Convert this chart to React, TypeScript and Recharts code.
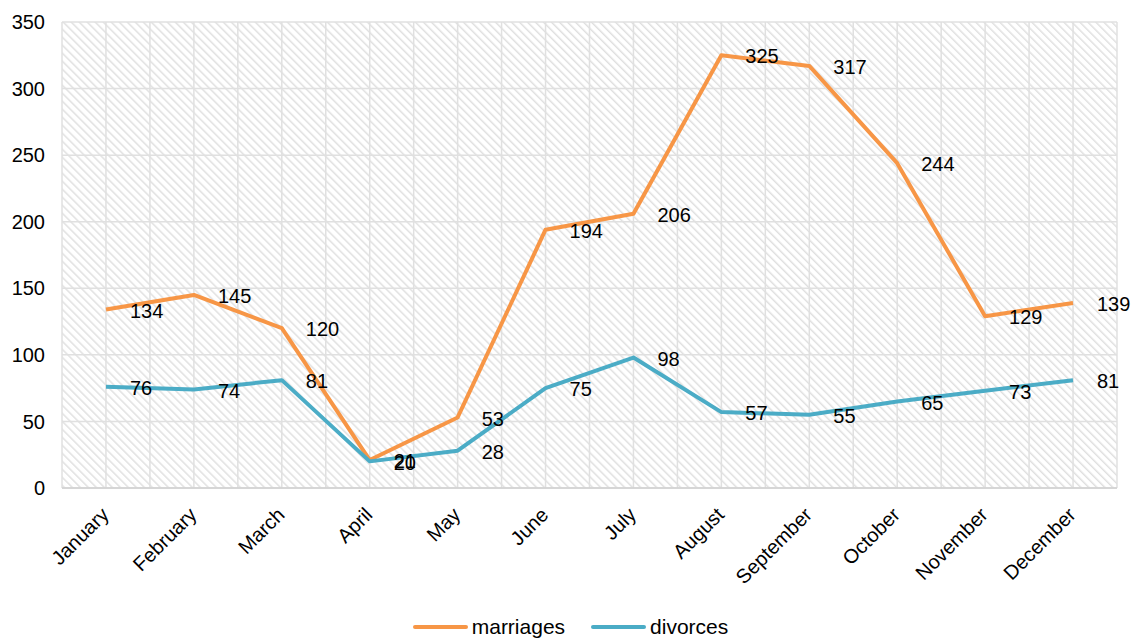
import { LineChart, Line, XAxis, YAxis, CartesianGrid, Legend, LabelList } from 'recharts'

const months = ['January', 'February', 'March', 'April', 'May', 'June', 'July', 'August', 'September', 'October', 'November', 'December']
const marriages = [134, 145, 120, 21, 53, 194, 206, 325, 317, 244, 129, 139]
const divorces = [76, 74, 81, 20, 28, 75, 98, 57, 55, 65, 73, 81]
const yTicks = [0, 50, 100, 150, 200, 250, 300, 350]

const data = months.map((month, i) => ({ month, marriages: marriages[i], divorces: divorces[i] }))

const FONT = '"Liberation Sans", Arial, sans-serif'
const ORANGE = '#F79646'
const BLUE = '#4BACC6'

// value labels sit to the right of each point
function ValueLabel(props: any) {
  const { x, y, value } = props
  return (
    <text x={x + 24} y={y + 1} dy="0.36em" fontSize={20} fontFamily={FONT} fill="#000">
      {value}
    </text>
  )
}

function MonthTick(props: any) {
  const { x, y, payload } = props
  const tx = x + 4
  const ty = y + 20
  return (
    <text x={tx} y={ty} transform={`rotate(-45 ${tx} ${ty})`} textAnchor="end" fontSize={20} fontFamily={FONT} fill="#000">
      {payload.value}
    </text>
  )
}

function LegendContent() {
  const items = [
    { name: 'marriages', color: ORANGE },
    { name: 'divorces', color: BLUE },
  ]
  return (
    <div style={{ display: 'flex', justifyContent: 'center', gap: 26, fontFamily: FONT, fontSize: 21, height: 30, alignItems: 'center', paddingLeft: 14 }}>
      {items.map((it) => (
        <div key={it.name} style={{ display: 'flex', alignItems: 'center' }}>
          <span style={{ display: 'inline-block', width: 55, height: 4, borderRadius: 2, background: it.color, marginRight: 4 }} />
          <span>{it.name}</span>
        </div>
      ))}
    </div>
  )
}

export default function App() {
  return (
    <div style={{ position: 'absolute', left: 0, top: 0, width: 1137, height: 642, background: '#fff' }}>
      <LineChart width={1137} height={642} data={data} margin={{ top: 22, right: 20, left: 10, bottom: 0 }}>
        <defs>
          <pattern id="hatch" width="5.66" height="5.66" patternUnits="userSpaceOnUse" patternTransform="rotate(-45)">
            <rect x="0" y="0" width="1.5" height="5.66" fill="#e0e0e0" />
          </pattern>
        </defs>
        <CartesianGrid
          fill="url(#hatch)"
          fillOpacity={1}
          stroke="#e0e0e0"
          strokeWidth={1.5}
          verticalCoordinatesGenerator={({ offset }: any) =>
            Array.from({ length: 25 }, (_, k) => offset.left + (k * offset.width) / 24)
          }
        />
        <XAxis
          dataKey="month"
          height={124}
          interval={0}
          padding={{ left: 44, right: 44 }}
          tick={<MonthTick />}
          tickLine={false}
          axisLine={{ stroke: '#d0d0d0', strokeWidth: 1.5 }}
        />
        <YAxis
          width={52}
          domain={[0, 350]}
          ticks={yTicks}
          tickLine={false}
          axisLine={false}
          tickMargin={11}
          tick={{ fontSize: 20, fontFamily: FONT, fill: '#000' }}
        />
        <Legend verticalAlign="bottom" content={<LegendContent />} />
        <Line dataKey="marriages" stroke={ORANGE} strokeWidth={4} dot={false} isAnimationActive={false} strokeLinejoin="round">
          <LabelList dataKey="marriages" content={<ValueLabel />} />
        </Line>
        <Line dataKey="divorces" stroke={BLUE} strokeWidth={4} dot={false} isAnimationActive={false} strokeLinejoin="round">
          <LabelList dataKey="divorces" content={<ValueLabel />} />
        </Line>
      </LineChart>
    </div>
  )
}
